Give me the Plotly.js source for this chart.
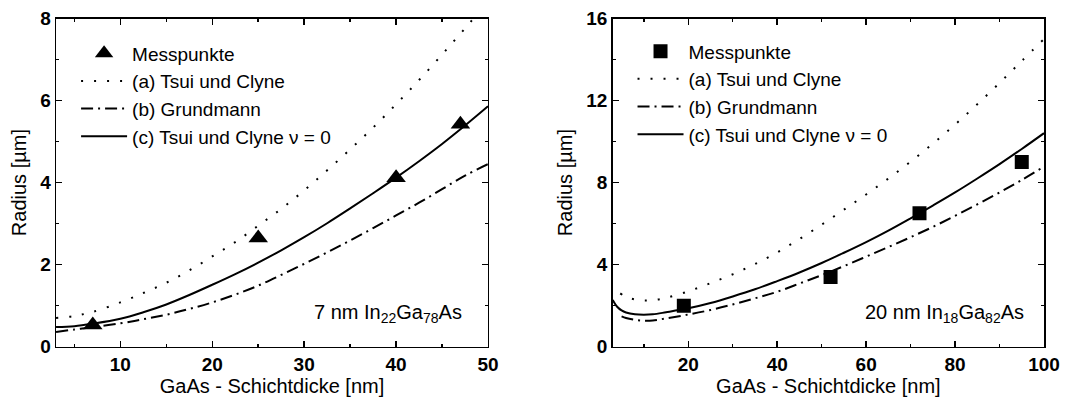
<!DOCTYPE html>
<html>
<head>
<meta charset="utf-8">
<script src="https://cdn.plot.ly/plotly-3.0.1.min.js"></script>
<style>html,body{margin:0;padding:0;background:#fff;}#chart{width:1090px;height:404px;}</style>
</head>
<body>
<div id="chart"></div>
<script>
// ---------- Left panel: 7 nm In22Ga78As ----------
const leftPtsX = [7, 25, 40, 47];
const leftPtsY = [0.53, 2.65, 4.12, 5.42];
const leftCurveX = [3, 5, 7, 10, 12.5, 15, 17.5, 20, 22.5, 25, 27.5, 30, 32.5, 35, 37.5, 40, 42.5, 45, 47.5, 50];
const leftA = [0.70, 0.75, 0.85, 1.08, 1.31, 1.56, 1.86, 2.20, 2.55, 2.95, 3.36, 3.81, 4.30, 4.81, 5.34, 5.91, 6.50, 7.12, 7.76, 8.42];
const leftB = [0.36, 0.42, 0.48, 0.57, 0.67, 0.78, 0.92, 1.08, 1.27, 1.49, 1.75, 2.02, 2.30, 2.59, 2.89, 3.20, 3.51, 3.84, 4.17, 4.45];
const leftC = [0.48, 0.50, 0.56, 0.68, 0.84, 1.03, 1.26, 1.51, 1.77, 2.05, 2.35, 2.67, 3.01, 3.37, 3.74, 4.12, 4.52, 4.94, 5.39, 5.86];
const leftXTicks = [10, 20, 30, 40, 50];
const leftYTicks = [0, 2, 4, 6, 8];

// ---------- Right panel: 20 nm In18Ga82As ----------
const rightPtsX = [19, 52, 72, 95];
const rightPtsY = [2.0, 3.4, 6.5, 9.0];
const rightAX = [4.7, 6, 8, 10, 12, 15, 20, 25, 30, 35, 40, 45, 50, 55, 60, 65, 70, 75, 80, 85, 90, 95, 100];
const rightA = [2.60, 2.43, 2.30, 2.25, 2.27, 2.38, 2.70, 3.10, 3.53, 4.03, 4.60, 5.25, 5.95, 6.68, 7.42, 8.20, 9.02, 9.90, 10.83, 11.82, 12.86, 13.93, 15.00];
const rightBX = [5, 6, 8, 10, 12, 15, 20, 25, 30, 35, 40, 45, 50, 55, 60, 65, 70, 75, 80, 85, 90, 95, 100];
const rightB = [1.48, 1.40, 1.31, 1.27, 1.28, 1.38, 1.57, 1.79, 2.06, 2.36, 2.68, 3.08, 3.49, 3.93, 4.39, 4.86, 5.34, 5.84, 6.38, 6.94, 7.52, 8.13, 8.78];
const rightCX = [3, 4, 5, 6, 8, 10, 12, 15, 20, 25, 30, 35, 40, 45, 50, 55, 60, 65, 70, 75, 80, 85, 90, 95, 100];
const rightC = [2.28, 1.95, 1.77, 1.67, 1.58, 1.56, 1.58, 1.68, 1.87, 2.13, 2.45, 2.80, 3.20, 3.62, 4.08, 4.58, 5.10, 5.66, 6.26, 6.88, 7.52, 8.20, 8.90, 9.64, 10.41];
const rightXTicks = [20, 40, 60, 80, 100];
const rightYTicks = [0, 4, 8, 12, 16];

const names = ['Messpunkte', '(a) Tsui und Clyne', '(b) Grundmann', '(c) Tsui und Clyne \u03bd = 0'];
const xTitle = 'GaAs - Schichtdicke [nm]';
const yTitle = 'Radius [\u00b5m]';
const notes = ['7 nm In<sub>22</sub>Ga<sub>78</sub>As', '20 nm In<sub>18</sub>Ga<sub>82</sub>As'];

const FONT = 'Liberation Sans, Arial, sans-serif';
const dotDash = '2px,11px';
const dashDot = '12px,5px,2px,5px';

function panel(xa, ya, lg, ptsX, ptsY, sym, msize, ax, ay, bx, by, cx, cy) {
  return [
    {x: ptsX, y: ptsY, xaxis: xa, yaxis: ya, legend: lg, mode: 'markers', name: names[0],
     marker: {symbol: sym, size: msize, color: '#000'}},
    {x: ax, y: ay, xaxis: xa, yaxis: ya, legend: lg, mode: 'lines', name: names[1],
     line: {color: '#000', width: 2, dash: dotDash, shape: 'spline'}},
    {x: bx, y: by, xaxis: xa, yaxis: ya, legend: lg, mode: 'lines', name: names[2],
     line: {color: '#000', width: 2, dash: dashDot, shape: 'spline'}},
    {x: cx, y: cy, xaxis: xa, yaxis: ya, legend: lg, mode: 'lines', name: names[3],
     line: {color: '#000', width: 2, shape: 'spline'}}
  ];
}

const data = [].concat(
  panel('x', 'y', 'legend', leftPtsX, leftPtsY, 'triangle-up', 17, leftCurveX, leftA, leftCurveX, leftB, leftCurveX, leftC),
  panel('x2', 'y2', 'legend2', rightPtsX, rightPtsY, 'square', 14, rightAX, rightA, rightBX, rightB, rightCX, rightC)
);

function baseAxis(domain, range, ticks, minor, anchor, title, standoff) {
  return {
    domain: domain, range: range, anchor: anchor,
    tickmode: 'array', tickvals: ticks, ticktext: ticks.map(v => '<b>' + v + '</b>'),
    ticks: 'inside', ticklen: 6, tickwidth: 1.5, tickcolor: '#000',
    minor: {dtick: minor, tick0: 0, ticks: 'inside', ticklen: 3, tickwidth: 1.5, tickcolor: '#000'},
    showline: true, linewidth: 1.5, linecolor: '#000', mirror: 'ticks',
    showgrid: false, zeroline: false,
    tickfont: {family: FONT, size: 19, color: '#000'},
    title: {text: title, font: {family: FONT, size: 20, color: '#000'}, standoff: standoff}
  };
}

const legendBase = {
  bgcolor: 'rgba(0,0,0,0)', borderwidth: 0, xanchor: 'left', yanchor: 'top',
  font: {family: FONT, size: 19, color: '#000'}, tracegroupgap: 0, itemwidth: 46
};

const layout = {
  width: 1090, height: 404,
  margin: {l: 0, r: 0, t: 0, b: 0},
  paper_bgcolor: '#fff', plot_bgcolor: '#fff',
  font: {family: FONT, color: '#000'},
  xaxis: baseAxis([0.0514, 0.4477], [3, 50], leftXTicks, 5, 'y', xTitle, 4),
  yaxis: baseAxis([0.1418, 0.9542], [0, 8], leftYTicks, 1, 'x', yTitle, 8),
  xaxis2: baseAxis([0.5621, 0.9578], [3, 100], rightXTicks, 10, 'y2', xTitle, 4),
  yaxis2: baseAxis([0.1418, 0.9542], [0, 16], rightYTicks, 2, 'x2', yTitle, 8),
  legend: Object.assign({}, legendBase, {x: 0.0698, y: 0.915}),
  legend2: Object.assign({}, legendBase, {x: 0.5803, y: 0.92}),
  annotations: [
    {text: notes[0], xref: 'paper', yref: 'paper', x: 0.426, y: 0.225, xanchor: 'right', yanchor: 'middle',
     showarrow: false, font: {family: FONT, size: 20, color: '#000'}},
    {text: notes[1], xref: 'paper', yref: 'paper', x: 0.941, y: 0.225, xanchor: 'right', yanchor: 'middle',
     showarrow: false, font: {family: FONT, size: 20, color: '#000'}}
  ]
};

Plotly.newPlot('chart', data, layout, {staticPlot: true, displayModeBar: false});
</script>
</body>
</html>
